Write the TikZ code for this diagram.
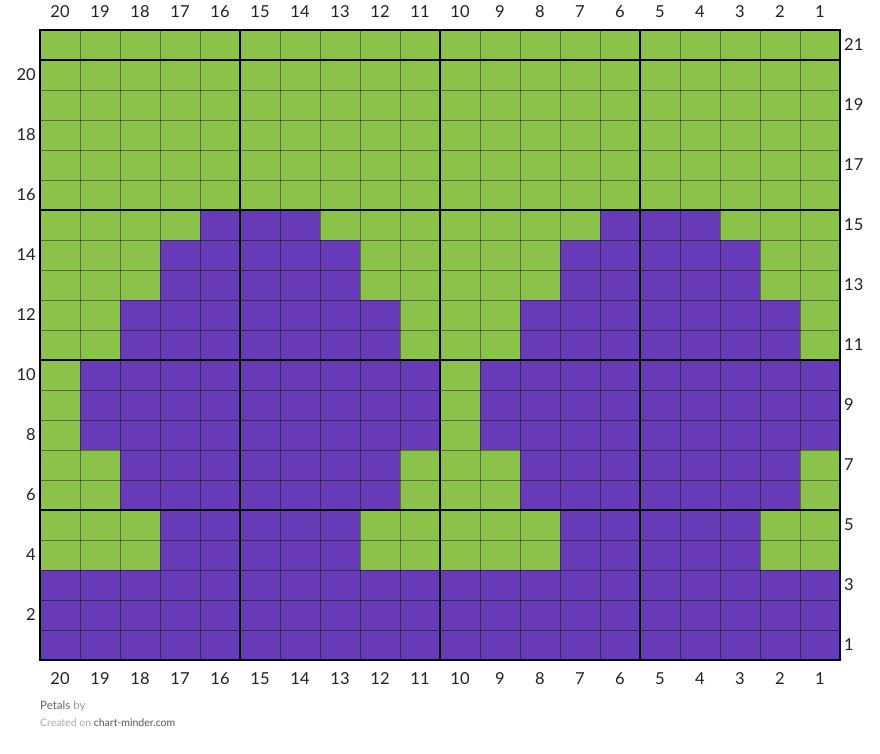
\documentclass[tikz,border=0pt]{standalone}
\usepackage{fontspec}
\setmainfont{Lato}
\definecolor{leaf}{HTML}{8BC34A}
\definecolor{petal}{HTML}{673AB7}
\definecolor{lbl}{HTML}{222222}
\begin{document}
\begin{tikzpicture}[x=1pt,y=-1pt,
  thin grid/.style={draw=black,draw opacity=0.4,line width=1pt},
  thick grid/.style={draw=black,line width=2pt},
  axis label/.style={font=\fontsize{16.5}{18}\selectfont,text=lbl,inner sep=0pt},
  foot/.style={font=\fontsize{11.5}{13}\selectfont,inner sep=0pt,anchor=base west}]
\useasboundingbox (0,0) rectangle (880,753);
\fill[white] (0,0) rectangle (880,753);
% background green
\fill[leaf] (40,30) rectangle (840,660);
% purple regions
\foreach \xa/\xb/\ya/\yb in {40/840/570/660,
  160/360/510/570, 560/760/510/570,
  120/400/450/510, 520/800/450/510,
  80/440/360/450, 480/840/360/450,
  120/400/300/360, 520/800/300/360,
  160/360/240/300, 560/760/240/300,
  200/320/210/240, 600/720/210/240}
  \fill[petal] (\xa,\ya) rectangle (\xb,\yb);
% thin grid
\foreach \i in {1,...,19} \draw[thin grid] (40+40*\i,30) -- (40+40*\i,660);
\foreach \j in {1,...,20} \draw[thin grid] (40,30+30*\j) -- (840,30+30*\j);
% thick grid
\foreach \xx in {240,440,640} \draw[thick grid] (\xx,30) -- (\xx,660);
\foreach \yy in {60,210,360,510} \draw[thick grid] (40,\yy) -- (840,\yy);
\draw[black,line width=2.5pt] (40,30) rectangle (840,660);
% column labels
\foreach \c in {1,...,20} {
  \node[axis label] (top\c) at ({40+(20-\c)*40+20},12) {\c};
  \node[axis label] (bot\c) at ({40+(20-\c)*40+20},679) {\c};
}
% row labels
\foreach \r in {2,4,...,20}
  \node[axis label,anchor=east] (left\r) at (36,{660-30*\r+15}) {\r};
\foreach \r in {1,3,...,21}
  \node[axis label,anchor=west] (right\r) at (844,{660-30*\r+15}) {\r};
% footer
\node[foot] (title) at (40,709) {\textcolor[HTML]{666666}{Petals} \textcolor[HTML]{9A9A9A}{by}};
\node[foot,font=\fontsize{10.5}{12}\selectfont] (credit) at (40,726) {\textcolor[HTML]{AAAAAA}{Created on} \textcolor[HTML]{555555}{chart-minder.com}};
\end{tikzpicture}
\end{document}
